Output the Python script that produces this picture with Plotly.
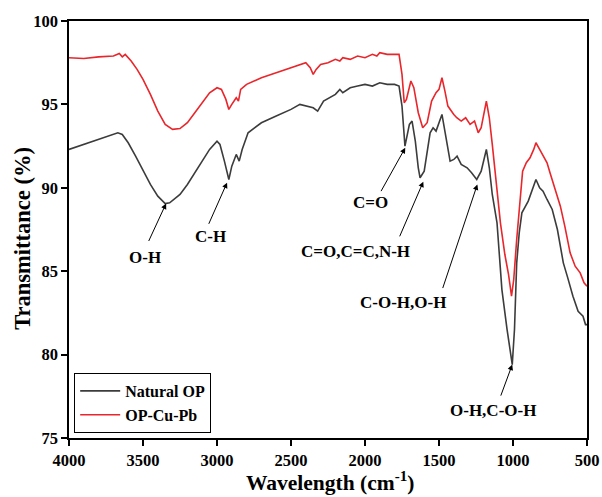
import plotly.graph_objects as go

# ---------------- data ----------------
red_x = [4000, 3900, 3800, 3700, 3660, 3640, 3620, 3580, 3540, 3500, 3450, 3400, 3350, 3300, 3250,
         3200, 3150, 3100, 3050, 3000, 2970, 2940, 2920, 2900, 2870, 2855, 2840, 2800, 2700,
         2600, 2500, 2440, 2400, 2370, 2350, 2330, 2300, 2250, 2200, 2170, 2150, 2100, 2050, 2000,
         1950, 1920, 1900, 1850, 1800, 1770, 1750, 1735, 1720, 1690, 1670, 1640, 1610, 1580, 1550,
         1520, 1500, 1480, 1460, 1440, 1400, 1380, 1350, 1320, 1290, 1260, 1235, 1215, 1180,
         1160, 1140, 1120, 1100, 1085, 1055, 1030, 1010, 995, 975, 955, 935, 910, 885, 860,
         845, 820, 795, 770, 750, 720, 680, 650, 614, 580, 546, 520, 500]
red_y = [97.8, 97.75, 97.85, 97.9, 98.05, 97.85, 98.0, 97.6, 97.1, 96.5, 95.6, 94.6, 93.8, 93.5, 93.55,
         93.9, 94.5, 95.1, 95.7, 96.0, 95.9, 95.3, 94.7, 95.0, 95.4, 95.2, 95.9, 96.2, 96.6,
         96.9, 97.2, 97.4, 97.5, 97.2, 96.8, 97.1, 97.4, 97.5, 97.7, 97.6, 97.8, 97.7, 97.9, 97.8,
         98.0, 97.9, 98.1, 98.0, 98.0, 98.0, 96.8, 95.1, 95.3, 96.4, 96.0, 94.5, 93.6, 93.9, 95.2,
         95.7, 95.9, 96.6, 95.8, 94.9, 94.4, 94.2, 94.0, 94.2, 93.8, 94.0, 93.3, 93.6, 95.2,
         94.2, 92.6, 91.0, 89.0, 87.9, 86.0, 84.8, 83.5, 84.5, 86.9, 89.2, 91.0, 91.5, 91.8, 92.3,
         92.7, 92.3, 91.9, 91.5, 90.9, 90.0, 88.9, 87.7, 86.1, 85.3, 84.9, 84.3, 84.1]

black_x = [4000, 3900, 3800, 3700, 3670, 3640, 3600, 3550, 3500, 3450, 3400, 3350, 3320, 3250,
           3200, 3150, 3100, 3050, 3000, 2980, 2950, 2920, 2900, 2870, 2850, 2830, 2790, 2700,
           2600, 2500, 2440, 2400, 2350, 2320, 2280, 2200, 2170, 2150, 2100, 2050, 2000, 1950, 1900,
           1850, 1800, 1770, 1750, 1730, 1700, 1682, 1660, 1640, 1628, 1600, 1560, 1540, 1520,
           1480, 1455, 1425, 1400, 1378, 1350, 1310, 1280, 1245, 1215, 1180, 1160, 1140, 1108,
           1090, 1075, 1040, 1005, 990, 975, 958, 940, 897, 870, 845, 820, 797, 770, 735, 700,
           660, 630, 595, 560, 527, 510, 500]
black_y = [92.3, 92.6, 92.9, 93.2, 93.3, 93.2, 92.7, 91.9, 91.0, 90.2, 89.5, 89.05, 89.1, 89.6,
           90.2, 90.9, 91.6, 92.3, 92.8, 92.6, 91.6, 90.5, 91.3, 92.0, 91.6, 92.3, 93.3, 93.9,
           94.3, 94.7, 95.0, 94.9, 94.8, 94.6, 95.2, 95.6, 95.9, 95.7, 96.0, 96.1, 96.2, 96.1, 96.3,
           96.2, 96.2, 96.1, 94.9, 92.5, 93.8, 94.0, 92.8, 91.2, 90.6, 91.0, 93.3, 93.6, 93.4,
           94.4, 93.0, 91.6, 91.7, 91.9, 91.4, 91.2, 90.9, 90.5, 91.0, 92.3, 91.2, 89.6, 87.9,
           85.5, 83.9, 81.5, 79.4, 81.5, 85.5, 87.3, 88.5, 89.2, 89.9, 90.5, 90.0, 89.8, 89.3,
           88.7, 87.5, 85.5, 84.6, 83.5, 82.6, 82.3, 81.8, 81.8]

x_ticks = [4000, 3500, 3000, 2500, 2000, 1500, 1000, 500]
y_ticks = [75, 80, 85, 90, 95, 100]

# label, text position, arrow tail, arrow tip  (data coordinates)
labels = ["O-H", "C-H", "C=O", "C=O,C=C,N-H", "C-O-H,O-H", "O-H,C-O-H"]
label_pos = [(3486, 85.83), (3047, 87.08), (1966, 89.11), (2061, 86.18), (1743, 83.13), (1135, 76.62)]
arrow_tail = [(3466, 86.72), (3060, 87.75), (1897, 89.71), (1770, 87.0), (1478, 83.9), (1086, 77.45)]
arrow_tip = [(3344, 89.06), (2932, 90.31), (1728, 92.4), (1606, 90.37), (1241, 90.2), (1005, 79.4)]

# ---------------- figure ----------------
FONT = "Liberation Serif"
fig = go.Figure()
fig.add_trace(go.Scatter(x=black_x, y=black_y, mode="lines", name="Natural OP",
                         line=dict(color="#3c3c3c", width=1.6)))
fig.add_trace(go.Scatter(x=red_x, y=red_y, mode="lines", name="OP-Cu-Pb",
                         line=dict(color="#e8262b", width=1.6)))

annotations = []
for lab, (tx, ty), (ax_, ay_), (hx, hy) in zip(labels, label_pos, arrow_tail, arrow_tip):
    annotations.append(dict(x=hx, y=hy, ax=ax_, ay=ay_, xref="x", yref="y", axref="x", ayref="y",
                            text="", showarrow=True, arrowhead=2, arrowsize=1.1, arrowwidth=1,
                            arrowcolor="black", standoff=0, startstandoff=0))
    annotations.append(dict(x=tx, y=ty, xref="x", yref="y", text=lab, showarrow=False,
                            font=dict(family=FONT, size=17, color="black", weight="bold"),
                            xanchor="center", yanchor="middle"))

# axis titles as paper annotations
annotations.append(dict(x=0.503, y=-0.142, xref="paper", yref="paper", text="Wavelength (cm<sup>-1</sup>)",
                        showarrow=False, xanchor="center", yanchor="bottom",
                        font=dict(family=FONT, size=21.5, color="black", weight="bold")))
annotations.append(dict(x=-0.089, y=0.48, xref="paper", yref="paper", text="Transmittance (%)",
                        showarrow=False, xanchor="center", yanchor="middle", textangle=-90,
                        font=dict(family=FONT, size=22.5, color="black", weight="bold")))

fig.update_layout(
    width=602, height=497,
    margin=dict(l=69, r=15, t=21, b=59),
    paper_bgcolor="white", plot_bgcolor="white",
    font=dict(family=FONT, color="black"),
    showlegend=True,
    legend=dict(x=0.01, y=0.012, xanchor="left", yanchor="bottom",
                bordercolor="black", borderwidth=1, bgcolor="white",
                font=dict(family=FONT, size=16, color="black", weight="bold"),
                itemwidth=40, tracegroupgap=0),
    annotations=annotations,
)
fig.update_xaxes(range=[4000, 500], tickvals=x_ticks, ticktext=[str(v) for v in x_ticks],
                 automargin=False,
                 showgrid=False, zeroline=False, showline=True, linecolor="black", linewidth=1.5,
                 mirror=True, ticks="outside", ticklen=6, tickwidth=1.5, tickcolor="black",
                 tickfont=dict(family=FONT, size=16.5, color="black", weight="bold"))
fig.update_yaxes(range=[75, 100], tickvals=y_ticks, ticktext=[str(v) for v in y_ticks],
                 automargin=False,
                 showgrid=False, zeroline=False, showline=True, linecolor="black", linewidth=1.5,
                 mirror=True, ticks="outside", ticklen=6, tickwidth=1.5, tickcolor="black",
                 tickfont=dict(family=FONT, size=16.5, color="black", weight="bold"))

fig.write_html("out.html")
